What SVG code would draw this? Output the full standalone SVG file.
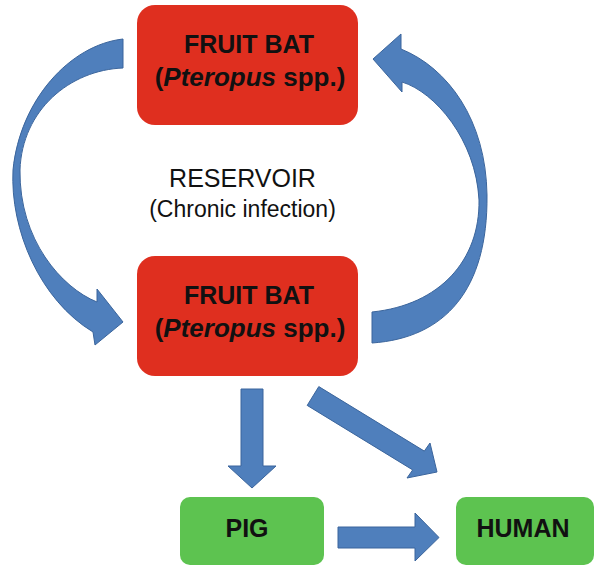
<svg xmlns="http://www.w3.org/2000/svg" width="595" height="566" viewBox="0 0 595 566">
  <style>
    .bat { fill: #df2f1f; }
    .host { fill: #5dc350; }
    .arrow { fill: #4f7fbc; stroke: #3b659c; stroke-width: 1; stroke-linejoin: miter; }
    .lbl { font-family: "Liberation Sans", Arial, sans-serif; fill: #111; text-anchor: middle; }
    .b { font-weight: bold; font-size: 25px; }
    .sp { font-weight: bold; font-size: 26px; }
  </style>
  <rect width="595" height="566" fill="#ffffff"/>

  <!-- connectors -->
  <g id="connectors">
    <!-- bat (top) to bat (bottom), curving round the left -->
    <path class="arrow" d="M123,39 C70,45 20,100 13,170 C10,230 40,300 93,332 L95,345 L123,322 L97,289 L97,302 C62,288 19,240 20,170 C22,110 70,70 123,68 Z"/>
    <!-- bat (bottom) back to bat (top), curving round the right -->
    <path class="arrow" d="M372,343 C445,338 488,290 487,195 C486,120 448,68 401,49 L401,34 L373,59 L402,92 L402,82 C435,92 476,140 479,200 C480,260 440,305 372,312 Z"/>
    <!-- bat to pig -->
    <path class="arrow" d="M241,389 L263,389 L263,466 L276,466 L252,488 L228,466 L241,466 Z"/>
    <!-- bat to human -->
    <path class="arrow" d="M318.8,386.6 L424.3,451.1 L430,443 L437,472 L407,478 L412.7,469.9 L307.2,405.4 Z"/>
    <!-- pig to human -->
    <path class="arrow" d="M338,527 L415,527 L415,513 L439,537.5 L415,561 L415,548 L338,548 Z"/>
  </g>

  <g id="bat-top">
    <rect class="bat" x="137" y="5" width="221" height="120" rx="18"/>
    <text class="lbl b" x="249" y="53">FRUIT BAT</text>
    <text class="lbl sp" x="250" y="86">(<tspan font-style="italic">Pteropus</tspan> spp.)</text>
  </g>

  <g id="reservoir-label">
    <text class="lbl" x="242.5" y="187" font-size="25">RESERVOIR</text>
    <text class="lbl" x="242.5" y="217" font-size="23">(Chronic infection)</text>
  </g>

  <g id="bat-bottom">
    <rect class="bat" x="137" y="256" width="221" height="120" rx="18"/>
    <text class="lbl b" x="249" y="304">FRUIT BAT</text>
    <text class="lbl sp" x="250" y="337">(<tspan font-style="italic">Pteropus</tspan> spp.)</text>
  </g>

  <g id="pig">
    <rect class="host" x="180" y="497" width="144" height="68" rx="10"/>
    <text class="lbl b" x="247" y="537">PIG</text>
  </g>

  <g id="human">
    <rect class="host" x="456" y="497" width="138" height="68" rx="10"/>
    <text class="lbl b" x="523" y="537">HUMAN</text>
  </g>
</svg>
